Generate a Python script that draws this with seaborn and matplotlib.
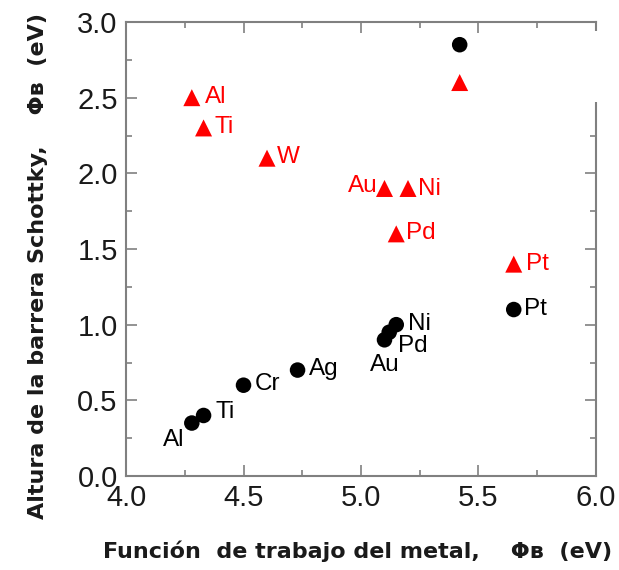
import matplotlib
matplotlib.use("Agg")
import matplotlib.pyplot as plt
from matplotlib.patches import Rectangle
from matplotlib.ticker import MultipleLocator
import seaborn as sns
import pandas as pd

# Measured Schottky barrier heights vs. metal work function
metals_measured = ["Al", "Ti", "Cr", "Ag", "Au", "Pd", "Ni", "Pt", ""]
wf_measured = [4.28, 4.33, 4.50, 4.73, 5.10, 5.12, 5.15, 5.65, 5.42]
phib_measured = [0.35, 0.40, 0.60, 0.70, 0.90, 0.95, 1.00, 1.10, 2.85]

# Ideal (Schottky-Mott) barrier heights
metals_ideal = ["Al", "Ti", "W", "Au", "Ni", "Pd", "Pt", ""]
wf_ideal = [4.28, 4.33, 4.60, 5.10, 5.20, 5.15, 5.65, 5.42]
phib_ideal = [2.50, 2.30, 2.10, 1.90, 1.90, 1.60, 1.40, 2.60]

x_ticks = [4.0, 4.5, 5.0, 5.5, 6.0]
y_ticks = [0.0, 0.5, 1.0, 1.5, 2.0, 2.5, 3.0]

x_title = "Función  de trabajo del metal,    Φʙ  (eV)"
y_title = "Altura de la barrera Schottky,    Φʙ  (eV)"

sns.set_theme(style="white")
plt.rcParams["font.family"] = ["Liberation Sans", "DejaVu Sans"]

df = pd.concat([
    pd.DataFrame({"metal": metals_measured, "wf": wf_measured,
                  "phib": phib_measured, "serie": "medido"}),
    pd.DataFrame({"metal": metals_ideal, "wf": wf_ideal,
                  "phib": phib_ideal, "serie": "ideal"}),
], ignore_index=True)

fig = plt.figure(figsize=(6.19, 5.70), dpi=100)
ax = fig.add_axes([0.2036, 0.1649, 0.7592, 0.7965])

sns.scatterplot(data=df, x="wf", y="phib", hue="serie", style="serie",
                palette={"medido": "black", "ideal": "#ff0000"},
                markers={"medido": "o", "ideal": "^"},
                size="serie", sizes={"medido": 125, "ideal": 150},
                edgecolor="none", legend=False, ax=ax, zorder=3)

# label placement: (dx, dy) in pixels from the marker, horizontal alignment
label_offsets_measured = {
    "Al": (-7, -23, "right"), "Ti": (12, -3, "left"), "Cr": (11, -5, "left"),
    "Ag": (11, -5, "left"), "Au": (0, -31, "center"), "Pd": (9, -20, "left"),
    "Ni": (12, -5, "left"), "Pt": (10, -5, "left"),
}
label_offsets_ideal = {
    "Al": (13, -5, "left"), "Ti": (11, -5, "left"), "W": (10, -5, "left"),
    "Au": (-7, -4, "right"), "Ni": (10, -7, "left"), "Pd": (10, -5, "left"),
    "Pt": (12, -6, "left"),
}

for name, x, y in zip(metals_measured, wf_measured, phib_measured):
    if name:
        dx, dy, ha = label_offsets_measured[name]
        ax.annotate(name, (x, y), xytext=(dx, dy), textcoords="offset pixels",
                    ha=ha, va="baseline", fontsize=17.5, color="black", zorder=4)

for name, x, y in zip(metals_ideal, wf_ideal, phib_ideal):
    if name:
        dx, dy, ha = label_offsets_ideal[name]
        ax.annotate(name, (x, y), xytext=(dx, dy), textcoords="offset pixels",
                    ha=ha, va="baseline", fontsize=17.5, color="#ff0000", zorder=4)

ax.set_xlim(4.0, 6.0)
ax.set_ylim(0.0, 3.0)
ax.set_xticks(x_ticks)
ax.set_yticks(y_ticks)
ax.set_xticklabels([f"{v:.1f}" for v in x_ticks])
ax.set_yticklabels([f"{v:.1f}" for v in y_ticks])
ax.xaxis.set_minor_locator(MultipleLocator(0.25))
ax.yaxis.set_minor_locator(MultipleLocator(0.25))

frame_color = "#808080"
for sp in ax.spines.values():
    sp.set_visible(True)
    sp.set_color(frame_color)
    sp.set_linewidth(1.5)

ax.tick_params(which="both", direction="in", top=True, right=True,
               bottom=True, left=True, color=frame_color, width=1.2,
               labelsize=21, labelcolor="#1a1a1a", pad=6)
ax.tick_params(which="major", length=8)
ax.tick_params(which="minor", length=4)

title_font = dict(family="DejaVu Sans", fontsize=16, fontweight="bold",
                  color="#1a1a1a")
ax.set_xlabel(x_title, **title_font)
ax.set_ylabel(y_title, **title_font)
ax.xaxis.set_label_coords(0.4926, -0.143)
ax.xaxis.label.set_va("top")
ax.yaxis.set_label_coords(-0.165, 0.4626)

# white box masking part of the right frame edge
ax.add_patch(Rectangle((0.96, 0.824), 0.06, 0.156, transform=ax.transAxes,
                       facecolor="white", edgecolor="none", clip_on=False,
                       zorder=5))

fig.savefig("out.png", dpi=100)
